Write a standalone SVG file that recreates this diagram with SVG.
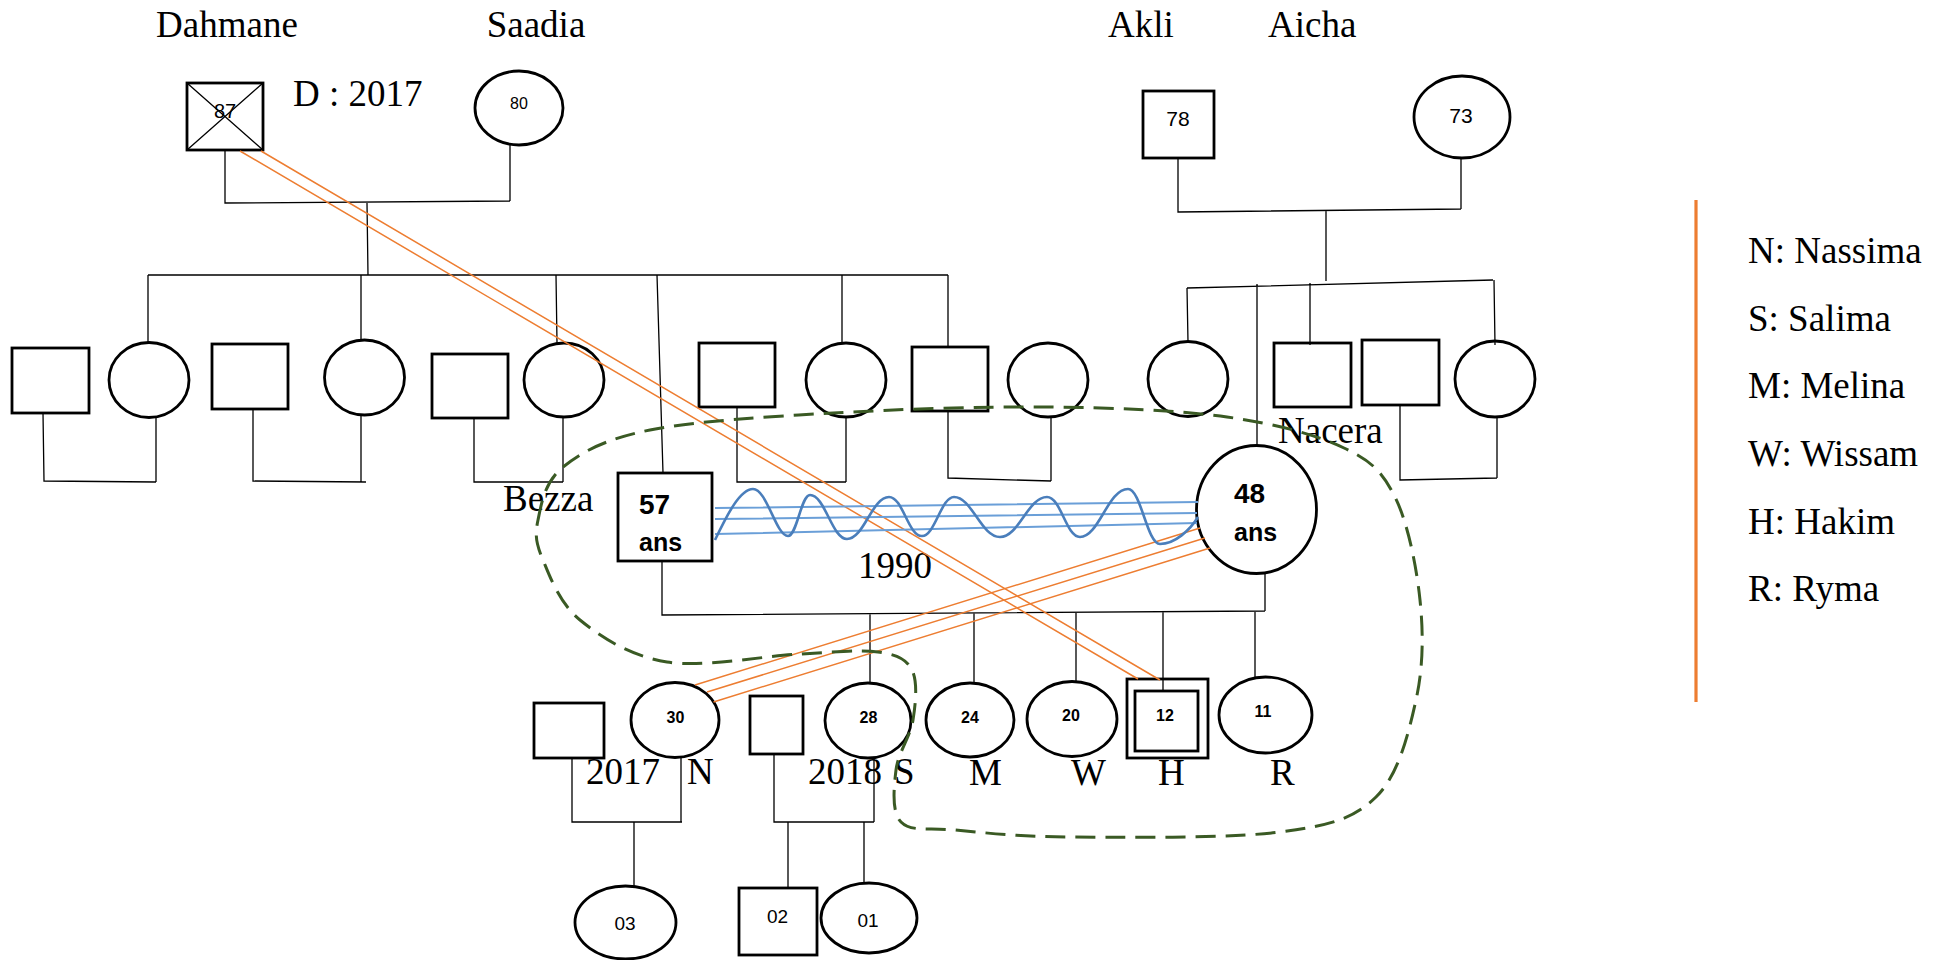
<svg xmlns="http://www.w3.org/2000/svg" width="1937" height="960" viewBox="0 0 1937 960">
<style>
.sh{fill:none;stroke:#000;stroke-width:2.8}
.ln{fill:none;stroke:#000;stroke-width:1.3}
.or{fill:none;stroke:#ED7D31;stroke-width:1.5}
.bl{fill:none;stroke:#6A9FD8;stroke-width:2}
.tt{font-family:"Liberation Serif","Times New Roman",serif;font-size:37px;fill:#000}
.n{font-family:"Liberation Sans",Arial,sans-serif;fill:#000;text-anchor:middle}
.nb{font-family:"Liberation Sans",Arial,sans-serif;fill:#000;font-weight:bold}
</style>
<rect width="1937" height="960" fill="#fff"/>

<g id="dahmane"><rect class="sh" x="187" y="83" width="76" height="67"/><path class="ln" d="M187,83 L263,150 M263,83 L187,150"/><text class="n" x="225" y="118" font-size="20">87</text><text class="tt" x="227" y="37" text-anchor="middle">Dahmane</text><text class="tt" x="293" y="106">D : 2017</text></g>
<g id="saadia"><ellipse class="sh" cx="519" cy="108" rx="44" ry="37"/><text class="n" x="519" y="109" font-size="16">80</text><text class="tt" x="536" y="37" text-anchor="middle">Saadia</text></g>
<g id="akli"><rect class="sh" x="1143" y="91" width="71" height="67"/><text class="n" x="1178" y="126" font-size="21">78</text><text class="tt" x="1108" y="37">Akli</text></g>
<g id="aicha"><ellipse class="sh" cx="1462" cy="117" rx="48" ry="41"/><text class="n" x="1461" y="123" font-size="21">73</text><text class="tt" x="1268" y="37">Aicha</text></g>

<g id="sq1"><rect class="sh" x="12" y="348" width="77" height="65"/></g>
<g id="c1"><ellipse class="sh" cx="149" cy="380" rx="40" ry="37.5"/></g>
<g id="sq2"><rect class="sh" x="212" y="344" width="76" height="65"/></g>
<g id="c2"><ellipse class="sh" cx="364.5" cy="377.5" rx="40" ry="37.5"/></g>
<g id="sq3"><rect class="sh" x="432" y="354" width="76" height="64"/></g>
<g id="c3"><ellipse class="sh" cx="564" cy="380" rx="40" ry="37"/></g>
<g id="sq4"><rect class="sh" x="699" y="343" width="76" height="64"/></g>
<g id="c4"><ellipse class="sh" cx="846" cy="380" rx="40" ry="37"/></g>
<g id="sq5"><rect class="sh" x="912" y="347" width="76" height="64"/></g>
<g id="c5"><ellipse class="sh" cx="1048" cy="380" rx="40" ry="37"/></g>
<g id="c6"><ellipse class="sh" cx="1188" cy="379" rx="40" ry="37.5"/></g>
<g id="sq6"><rect class="sh" x="1274" y="343" width="77" height="64"/></g>
<g id="sq7"><rect class="sh" x="1362" y="340" width="77" height="65"/></g>
<g id="c8"><ellipse class="sh" cx="1495" cy="379" rx="40" ry="38"/></g>

<g id="bezza"><rect class="sh" x="618" y="473" width="94" height="88"/><text class="nb" x="639" y="514" font-size="28">57</text><text class="nb" x="639" y="551" font-size="25">ans</text><text class="tt" x="503" y="511">Bezza</text></g>
<g id="nacera"><ellipse class="sh" cx="1256.5" cy="509.5" rx="60" ry="64"/><text class="nb" x="1234" y="503" font-size="28">48</text><text class="nb" x="1234" y="541" font-size="25">ans</text><text class="tt" x="1278" y="443">Nacera</text></g>

<g id="sqA"><rect class="sh" x="534" y="703" width="70" height="55"/></g>
<g id="nassima"><ellipse class="sh" cx="675" cy="720" rx="44" ry="37.5"/><text class="nb" x="675.5" y="723" font-size="16" text-anchor="middle">30</text><text class="tt" x="687" y="784">N</text></g>
<g id="sqB"><rect class="sh" x="750" y="696" width="53" height="58"/></g>
<g id="salima"><ellipse class="sh" cx="868" cy="720.5" rx="43" ry="37.5"/><text class="nb" x="868.5" y="723" font-size="16" text-anchor="middle">28</text><text class="tt" x="894" y="784">S</text></g>
<g id="melina"><ellipse class="sh" cx="970" cy="720" rx="44" ry="37"/><text class="nb" x="970" y="723" font-size="16" text-anchor="middle">24</text><text class="tt" x="969" y="785">M</text></g>
<g id="wissam"><ellipse class="sh" cx="1072" cy="719" rx="45" ry="37.5"/><text class="nb" x="1071" y="721" font-size="16" text-anchor="middle">20</text><text class="tt" x="1071" y="785">W</text></g>
<g id="hakim"><rect class="sh" x="1127" y="679" width="81" height="79" stroke-width="2.4"/><rect class="sh" x="1135" y="691" width="63" height="60"/><text class="nb" x="1165" y="721" font-size="16" text-anchor="middle">12</text><text class="tt" x="1158" y="785">H</text></g>
<g id="ryma"><ellipse class="sh" cx="1265.5" cy="715" rx="46.5" ry="38"/><text class="nb" x="1263" y="717" font-size="16" text-anchor="middle">11</text><text class="tt" x="1270" y="785">R</text></g>

<g id="g03"><ellipse class="sh" cx="625.5" cy="922.5" rx="50.5" ry="36.5"/><text class="n" x="625" y="930" font-size="19">03</text></g>
<g id="g02"><rect class="sh" x="739" y="888" width="78" height="67"/><text class="n" x="777.5" y="923" font-size="19">02</text></g>
<g id="g01"><ellipse class="sh" cx="869" cy="918" rx="48" ry="35"/><text class="n" x="868" y="927" font-size="19">01</text></g>

<g id="labels"><text class="tt" x="858" y="578">1990</text><text class="tt" x="586" y="784">2017</text><text class="tt" x="808" y="784">2018</text></g>

<g id="connectors">
<path class="ln" d="M225,151 L225,203 L510,201 M510,145 L510,201 M367,203 L368,275 M148,275 L948,275 M148,275 L148,343 M361,275 L361,340 M556,275 L557,343 M657,275 L663,473 M842,275 L842,343 M948,275 L948,347"/>
<path class="ln" d="M43,413 L44,481 L156,482 M156,418 L156,482 M253,409 L253,481 L366,482 M361,415 L361,482 M474,418 L474,482 L563,482 M563,417 L563,482 M737,407 L737,482 L846,482 M846,417 L846,482 M948,411 L948,478 L1051,481 M1051,417 L1051,481"/>
<path class="ln" d="M1178,158 L1178,212 L1461,209 M1461,158 L1461,209 M1326,210 L1326,281 M1187,288 L1493,280 M1187,288 L1188,342 M1257,284 L1257,445 M1310,283 L1310,345 M1494,280 L1495,345 M1400,405 L1400,480 L1497,478 M1497,417 L1497,478"/>
<path class="ln" d="M662,561 L662,615 L1265,611 M1265,573 L1265,611 M870,614 L870,683 M974,613 L974,683 M1076,613 L1076,681 M1163,612 L1163,691 M1255,611 L1255,677"/>
<path class="ln" d="M572,758 L572,822 L682,822 M681,757 L681,822 M634,822 L634,886 M774,754 L774,822 L874,822 M874,757 L874,822 M788,822 L788,888 M864,822 L864,883"/>
</g>

<g id="relations">
<path class="or" d="M240,151 L1138,679 M261,151 L1160,680"/>
<path class="or" d="M695,685 L1200,528 M707,692 L1205,538 M713.5,702 L1210,548"/>
<path class="bl" d="M715,508 L1198,502 M715,519 L1197,513 M715,534 L1197,523"/>
<path fill="none" stroke="#4A7EBB" stroke-width="2.6" d="M715,540 C727,515 740,489 753,489 C767,489 776,536 788,536 C797,536 801,495 810,495 C825,495 832,539 847,539 C864,539 872,497 889,497 C903,497 908,536 922,536 C935,536 941,497 954,497 C972,497 981,537 1000,537 C1019,537 1028,497 1047,497 C1061,497 1066,537 1080,537 C1099,537 1108,489 1128,489 C1141,489 1147,544 1160,544 C1175,544 1190,530 1198,517"/>
<path fill="none" stroke="#3A5A24" stroke-width="3" stroke-dasharray="20 10" d="M538,520 C541.3,504.5 544.3,482 563,467 C581.7,452 605,439 650,430 C695,421 766.7,416.8 833,413 C899.3,409.2 982.3,406.3 1048,407 C1113.7,407.7 1177.7,410.2 1227,417 C1276.3,423.8 1316,434.7 1344,448 C1372,461.3 1382.3,471.7 1395,497 C1407.7,522.3 1416.5,566.2 1420,600 C1423.5,633.8 1423.3,667.2 1416,700 C1408.7,732.8 1398.7,775 1376,797 C1353.3,819 1331,825.3 1280,832 C1229,838.7 1124.2,837.3 1070,837 C1015.8,836.7 983.2,832.5 955,830 C926.8,827.5 910.8,832 901,822 C891.2,812 894,787 896,770 C898,753 910.3,736.7 913,720 C915.7,703.3 917.8,681.3 912,670 C906.2,658.7 896.7,654.7 878,652 C859.3,649.3 835.2,652.3 800,654 C764.8,655.7 703.7,667.7 667,662 C630.3,656.3 600.7,637 580,620 C559.3,603 550,576.7 543,560 C536,543.3 534.7,535.5 538,520 Z"/>
</g>

<g id="legend">
<path d="M1696,200 L1696,702" stroke="#ED7D31" stroke-width="3.2"/>
<text class="tt" x="1748" y="263">N: Nassima</text>
<text class="tt" x="1748" y="330.5">S: Salima</text>
<text class="tt" x="1748" y="398">M: Melina</text>
<text class="tt" x="1748" y="466">W: Wissam</text>
<text class="tt" x="1748" y="533.5">H: Hakim</text>
<text class="tt" x="1748" y="601">R: Ryma</text>
</g>
</svg>
